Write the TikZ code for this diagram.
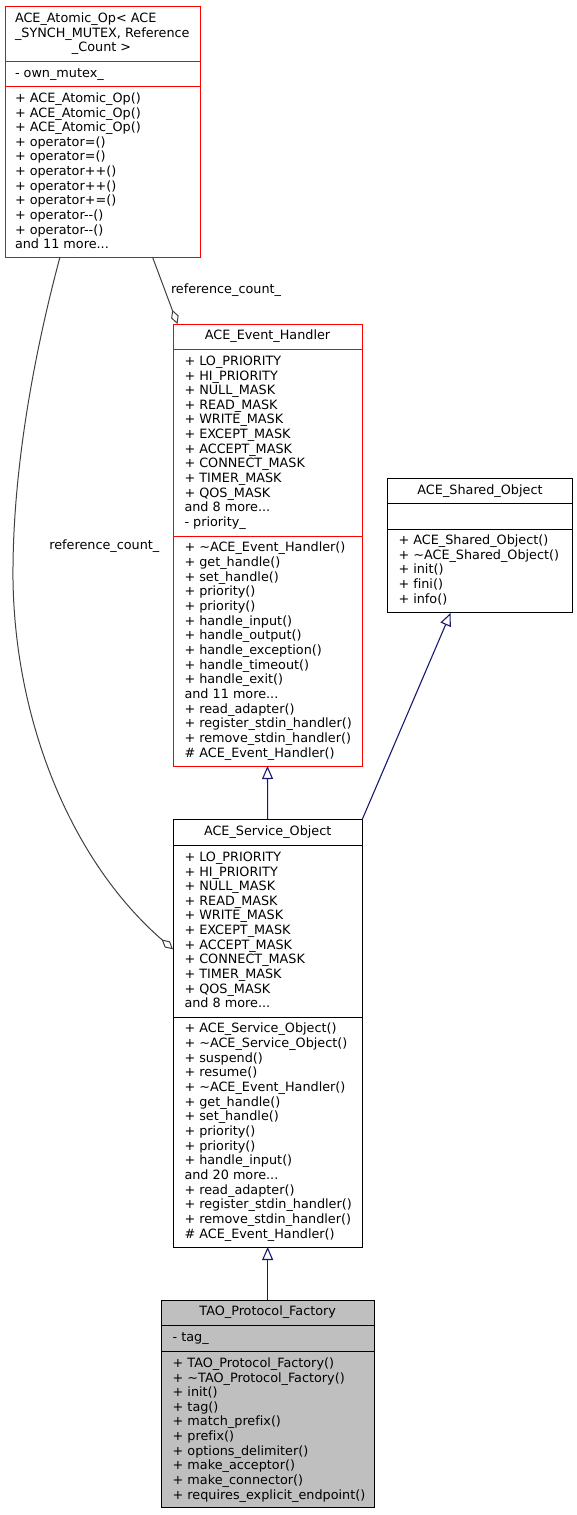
\documentclass[tikz,border=0pt]{standalone}
\usepackage{fontspec}
\setmainfont{DejaVu Sans}[Ligatures=NoCommon]
\usetikzlibrary{arrows.meta,calc}
\definecolor{navyedge}{HTML}{191970}
\definecolor{grayedge}{HTML}{404040}
\definecolor{boxgray}{HTML}{BFBFBF}
\tikzset{
  every node/.style={inner sep=0pt, outer sep=0pt},
  cls/.style={draw, line width=1pt, anchor=north west},
  txt/.style={anchor=north west, align=left, font=\fontsize{12.8}{14.65}\selectfont},
  ttl/.style={anchor=base, font=\fontsize{12.8}{14.65}\selectfont},
  lbl/.style={anchor=base west, font=\fontsize{12.8}{14.65}\selectfont},
  inh/.style={draw=navyedge, line width=1.1pt, -{Triangle[open, length=13pt, width=11pt]}},
  agg/.style={draw=grayedge, line width=1pt, -{Diamond[open, length=15pt, width=8pt]}},
  divr/.style={draw=red, line width=1pt},
  divk/.style={draw=black, line width=1pt},
}
\begin{document}
\begin{tikzpicture}[x=1pt,y=-1pt]
\useasboundingbox (0,0) rectangle (577,1515);

% ---------------- ACE_Atomic_Op
\node[cls, draw=red, minimum width=195pt, minimum height=251pt] (atomic) at (5,6) {};
\draw[divr] (atomic.west |- 0,61) -- (atomic.east |- 0,61);
\draw[divr] (atomic.west |- 0,86) -- (atomic.east |- 0,86);
\node[txt] (atomic-t) at (15,12.1) {\strut ACE\_Atomic\_Op< ACE\\\_SYNCH\_MUTEX, Reference\\\hspace*{57pt}\_Count >};
\node[txt] (atomic-a) at (15,67.4) {\strut - own\_mutex\_};
\node[txt] (atomic-m) at (15,92.1) {\strut + ACE\_Atomic\_Op()\\+ ACE\_Atomic\_Op()\\+ ACE\_Atomic\_Op()\\+ operator=()\\+ operator=()\\+ operator++()\\+ operator++()\\+ operator+=()\\+ operator-{}-()\\+ operator-{}-()\\and 11 more...};

% ---------------- ACE_Event_Handler
\node[cls, draw=red, minimum width=189pt, minimum height=442pt] (eh) at (173,324) {};
\draw[divr] (eh.west |- 0,349) -- (eh.east |- 0,349);
\draw[divr] (eh.west |- 0,536) -- (eh.east |- 0,536);
\node[ttl] (eh-t) at (267.5,339.7) {ACE\_Event\_Handler};
\node[txt] (eh-a) at (184.5,355.1) {\strut + LO\_PRIORITY\\+ HI\_PRIORITY\\+ NULL\_MASK\\+ READ\_MASK\\+ WRITE\_MASK\\+ EXCEPT\_MASK\\+ ACCEPT\_MASK\\+ CONNECT\_MASK\\+ TIMER\_MASK\\+ QOS\_MASK\\and 8 more...\\- priority\_};
\node[txt] (eh-m) at (184.5,541.7) {\strut + \textasciitilde ACE\_Event\_Handler()\\+ get\_handle()\\+ set\_handle()\\+ priority()\\+ priority()\\+ handle\_input()\\+ handle\_output()\\+ handle\_exception()\\+ handle\_timeout()\\+ handle\_exit()\\and 11 more...\\+ read\_adapter()\\+ register\_stdin\_handler()\\+ remove\_stdin\_handler()\\\# ACE\_Event\_Handler()};

% ---------------- ACE_Shared_Object
\node[cls, minimum width=185.5pt, minimum height=134.5pt] (sh) at (387.3,478.3) {};
\draw[divk] (sh.west |- 0,503) -- (sh.east |- 0,503);
\draw[divk] (sh.west |- 0,529) -- (sh.east |- 0,529);
\node[ttl] (sh-t) at (480,494) {ACE\_Shared\_Object};
\node[txt] (sh-m) at (398.5,534.4) {\strut + ACE\_Shared\_Object()\\+ \textasciitilde ACE\_Shared\_Object()\\+ init()\\+ fini()\\+ info()};

% ---------------- ACE_Service_Object
\node[cls, minimum width=189.3pt, minimum height=427.7pt] (so) at (173,819.3) {};
\draw[divk] (so.west |- 0,845) -- (so.east |- 0,845);
\draw[divk] (so.west |- 0,1017) -- (so.east |- 0,1017);
\node[ttl] (so-t) at (267.7,835.4) {ACE\_Service\_Object};
\node[txt] (so-a) at (184.5,851.1) {\strut + LO\_PRIORITY\\+ HI\_PRIORITY\\+ NULL\_MASK\\+ READ\_MASK\\+ WRITE\_MASK\\+ EXCEPT\_MASK\\+ ACCEPT\_MASK\\+ CONNECT\_MASK\\+ TIMER\_MASK\\+ QOS\_MASK\\and 8 more...};
\node[txt] (so-m) at (184.5,1022.7) {\strut + ACE\_Service\_Object()\\+ \textasciitilde ACE\_Service\_Object()\\+ suspend()\\+ resume()\\+ \textasciitilde ACE\_Event\_Handler()\\+ get\_handle()\\+ set\_handle()\\+ priority()\\+ priority()\\+ handle\_input()\\and 20 more...\\+ read\_adapter()\\+ register\_stdin\_handler()\\+ remove\_stdin\_handler()\\\# ACE\_Event\_Handler()};

% ---------------- TAO_Protocol_Factory
\node[cls, fill=boxgray, minimum width=213.3pt, minimum height=207.7pt] (tao) at (161,1300) {};
\draw[divk] (tao.west |- 0,1325) -- (tao.east |- 0,1325);
\draw[divk] (tao.west |- 0,1351) -- (tao.east |- 0,1351);
\node[ttl] (tao-t) at (267.7,1315.7) {TAO\_Protocol\_Factory};
\node[txt] (tao-a) at (172.7,1331.7) {\strut - tag\_};
\node[txt] (tao-m) at (172.7,1357.1) {\strut + TAO\_Protocol\_Factory()\\+ \textasciitilde TAO\_Protocol\_Factory()\\+ init()\\+ tag()\\+ match\_prefix()\\+ prefix()\\+ options\_delimiter()\\+ make\_acceptor()\\+ make\_connector()\\+ requires\_explicit\_endpoint()};

% ---------------- connectors
\draw[inh] (so.north) -- (eh.south);
\draw[inh] (so.north east) -- ($(sh.south west)+(63.4,0)$);
\draw[inh] (tao.north) -- (so.south);

\draw[agg] ($(atomic.south west)+(147.5,0)$) -- ($(eh.north west)+(4.5,0)$);
\draw[agg] ($(atomic.south west)+(55,0)$) .. controls (35,350) and (12,470) .. (13,580)
           .. controls (15,720) and (70,860) .. ($(so.north west)+(0,130)$);

\node[lbl] (rc1) at (171,293) {reference\_count\_};
\node[lbl] (rc2) at (49.3,549.5) {reference\_count\_};
\end{tikzpicture}
\end{document}
